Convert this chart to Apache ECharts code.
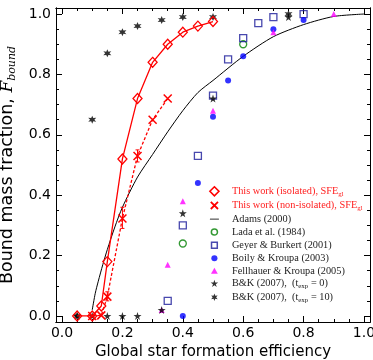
<!DOCTYPE html>
<html><head><meta charset="utf-8">
<script src="https://cdn.jsdelivr.net/npm/echarts@6/dist/echarts.min.js"></script>
<style>html,body{margin:0;padding:0;background:#fff}#c{width:373px;height:360px}</style>
</head><body><div id="c"></div>
<script>
// tick values
const xMajor=[0,0.2,0.4,0.6,0.8,1.0];
const xMinor=[0.05,0.1,0.15,0.25,0.3,0.35,0.45,0.5,0.55,0.65,0.7,0.75,0.85,0.9,0.95];
const yMajor=[0,0.2,0.4,0.6,0.8,1.0];
const yMinor=[0.05,0.1,0.15,0.25,0.3,0.35,0.45,0.5,0.55,0.65,0.7,0.75,0.85,0.9,0.95];

// data
const isoX=[0.05,0.10,0.13,0.15,0.20,0.25,0.30,0.35,0.40,0.45,0.50];
const isoY=[0,0,0.033,0.18,0.52,0.72,0.84,0.90,0.94,0.96,0.975];
const nonX=[0.10,0.13,0.15,0.20,0.25,0.30,0.35];
const nonY=[0,0.002,0.064,0.323,0.53,0.65,0.72];
const errX=[0.15,0.20,0.25];
const errLo=[0.05,0.29,0.51];
const errHi=[0.08,0.36,0.55];
const adamsX=[0.10,0.11,0.12,0.135,0.15,0.175,0.20,0.25,0.30,0.35,0.40,0.45,0.50,0.60,0.70,0.80,0.90,1.00];
const adamsY=[0.02,0.075,0.115,0.17,0.22,0.295,0.36,0.46,0.535,0.61,0.68,0.74,0.78,0.86,0.925,0.965,0.992,1.0];
const ladaX=[0.40,0.60];
const ladaY=[0.24,0.90];
const gbX=[0.35,0.40,0.45,0.50,0.55,0.60,0.65,0.70,0.80];
const gbY=[0.05,0.30,0.53,0.73,0.85,0.92,0.97,0.99,1.0];
const bkX=[0.40,0.45,0.50,0.55,0.60,0.70,0.80];
const bkY=[0,0.44,0.66,0.78,0.86,0.95,0.98];
const fkX=[0.33,0.35,0.40,0.50,0.70,0.90];
const fkY=[0.02,0.17,0.38,0.68,0.94,1.0];
const bk0X=[0.05,0.10,0.15,0.20,0.25,0.33,0.40,0.50,0.75];
const bk0Y=[0,0,0,0,0,0.02,0.34,0.72,0.99];
const bk10X=[0.05,0.10,0.15,0.20,0.25,0.33,0.40,0.50,0.75];
const bk10Y=[0,0.65,0.87,0.94,0.96,0.98,0.99,0.99,1.0];

const names=['iso','non','adams','lada','gb','bk','fk','bk0','bk10'];
const labels={
  iso:'{r|This work (isolated), SFE}{rs|gl}',
  non:'{r|This work (non-isolated), SFE}{rs|gl}',
  adams:'{b|Adams (2000)}',
  lada:'{b|Lada et al. (1984)}',
  gb:'{b|Geyer & Burkert (2001)}',
  bk:'{b|Boily & Kroupa (2003)}',
  fk:'{b|Fellhauer & Kroupa (2005)}',
  bk0:'{b|B&K (2007),  (t}{bs|exp}{b| = 0)}',
  bk10:'{b|B&K (2007),  (t}{bs|exp}{b| = 10)}'
};

const zip=(a,b)=>a.map((v,i)=>[v,b[i]]);
const STAR5='path://M5,0L6.18,3.6L10,3.6L6.9,5.9L8.1,9.5L5,7.3L1.9,9.5L3.1,5.9L0,3.6L3.8,3.6Z';
const STAR6='path://M5,0L6.15,3.01L9.33,2.5L7.3,5L9.33,7.5L6.15,6.99L5,10L3.85,6.99L0.67,7.5L2.7,5L0.67,2.5L3.85,3.01Z';
const XMARK='path://M0,0L10,10M0,10L10,0';
// legend icons (with invisible margins so they render smaller in the box)
const L_X='path://M0,0M10,10M1,1L9,9M1,9L9,1';
const L_LINE='path://M0,0M10,10M-0.5,4.5h11v1h-11z';
const L_CIRC='path://M0,0M10,10M8.4,5A3.4,3.4,0,1,1,1.6,5A3.4,3.4,0,1,1,8.4,5Z';
const L_RECT='path://M0,0M10,10M1.8,1.8h6.4v6.4h-6.4Z';
const L_TRI='path://M0,0M10,10M5,1.5L8.8,8.3L1.2,8.3Z';
const L_STAR5='path://M-1,-1M11,11M5,0L6.18,3.6L10,3.6L6.9,5.9L8.1,9.5L5,7.3L1.9,9.5L3.1,5.9L0,3.6L3.8,3.6Z';
const L_STAR6='path://M-1,-1M11,11M5,0L6.15,3.01L9.33,2.5L7.3,5L9.33,7.5L6.15,6.99L5,10L3.85,6.99L0.67,7.5L2.7,5L0.67,2.5L3.85,3.01Z';

function mkAxis(pos,vals,len,labels,isX){
  const a={type:'value',min:-0.02,max:1.02,position:pos,
    axisLine:{show:true,onZero:false,lineStyle:{color:'#000',width:1}},
    axisTick:{show:true,inside:true,length:len,customValues:vals,lineStyle:{color:'#000',width:1}},
    axisLabel:{show:!!labels},
    splitLine:{show:false}};
  if(labels){
    a.axisLabel={show:true,customValues:vals,formatter:v=>v.toFixed(1),color:'#000',
      fontFamily:'DejaVu Sans',fontSize:14,margin:isX?4:5};
  }
  return a;
}
const xAxes=[mkAxis('bottom',xMajor,6,true,true),mkAxis('bottom',xMinor,3,false),
             mkAxis('top',xMajor,6,false),mkAxis('top',xMinor,3,false)];
xAxes[0].name='Global star formation efficiency';
xAxes[0].nameLocation='middle';xAxes[0].nameGap=20;
xAxes[0].nameTextStyle={fontFamily:'DejaVu Sans',fontSize:15,color:'#000'};
const yAxes=[mkAxis('left',yMajor,6,true,false),mkAxis('left',yMinor,3,false),
             mkAxis('right',yMajor,6,false),mkAxis('right',yMinor,3,false)];
yAxes[0].name='{a|Bound mass fraction, }{i|F}{s|bound}';
yAxes[0].nameLocation='middle';yAxes[0].nameGap=28;yAxes[0].nameRotate=90;
yAxes[0].nameTextStyle={rich:{
  a:{fontFamily:'DejaVu Sans',fontSize:17.5,color:'#000',lineHeight:20},
  i:{fontFamily:'DejaVu Serif',fontStyle:'italic',fontSize:17,color:'#000',lineHeight:20},
  s:{fontFamily:'DejaVu Serif',fontStyle:'italic',fontSize:11,color:'#000',lineHeight:12,verticalAlign:'bottom'}}};

const series=[
 {name:'adams',type:'line',data:zip(adamsX,adamsY),smooth:0.25,showSymbol:false,symbol:'none',
  lineStyle:{color:'#000',width:1},itemStyle:{color:'#000'},z:2},
 {name:'iso',type:'line',data:zip(isoX,isoY),symbol:'diamond',symbolSize:[9,10],
  lineStyle:{color:'#ff0000',width:1.3},itemStyle:{color:'rgba(255,255,255,0)',borderColor:'#ff0000',borderWidth:1.3},z:5},
 {name:'non',type:'line',data:zip(nonX,nonY),symbol:XMARK,symbolSize:8,
  lineStyle:{color:'#ff0000',width:1.3,type:[3,2]},itemStyle:{color:'rgba(255,0,0,0)',borderColor:'#ff0000',borderWidth:1.5},z:5},
 {name:'err',type:'custom',data:errX.map((x,i)=>[x,errLo[i],errHi[i]]),
  renderItem:(p,api)=>{const lo=api.coord([api.value(0),api.value(1)]);const hi=api.coord([api.value(0),api.value(2)]);
   return {type:'group',children:[
    {type:'line',shape:{x1:lo[0],y1:lo[1],x2:hi[0],y2:hi[1]},style:{stroke:'#ff0000',lineWidth:1}},
    {type:'line',shape:{x1:lo[0]-2,y1:lo[1],x2:lo[0]+2,y2:lo[1]},style:{stroke:'#ff0000',lineWidth:1}},
    {type:'line',shape:{x1:hi[0]-2,y1:hi[1],x2:hi[0]+2,y2:hi[1]},style:{stroke:'#ff0000',lineWidth:1}}]};},z:4},
 {name:'lada',type:'scatter',data:zip(ladaX,ladaY),symbol:'circle',symbolSize:7,
  itemStyle:{color:'rgba(255,255,255,0)',borderColor:'#008000',borderWidth:1.3}},
 {name:'gb',type:'scatter',data:zip(gbX,gbY),symbol:'rect',symbolSize:7,
  itemStyle:{color:'rgba(255,255,255,0)',borderColor:'#1a1a9a',borderWidth:1.3}},
 {name:'bk',type:'scatter',data:zip(bkX,bkY),symbol:'circle',symbolSize:6,itemStyle:{color:'#0000ff'}},
 {name:'fk',type:'scatter',data:zip(fkX,fkY),symbol:'triangle',symbolSize:6,itemStyle:{color:'#ff00ff'}},
 {name:'bk0',type:'scatter',data:zip(bk0X,bk0Y),symbol:STAR5,symbolSize:8,itemStyle:{color:'#000'}},
 {name:'bk10',type:'scatter',data:zip(bk10X,bk10Y),symbol:STAR6,symbolSize:8,itemStyle:{color:'#000'}}
];

const legIcons={
 iso:{icon:'diamond',itemStyle:{color:'rgba(255,255,255,0)',borderColor:'#ff0000',borderWidth:1.6}},
 non:{icon:L_X,itemStyle:{color:'rgba(255,255,255,0)',borderColor:'#ff0000',borderWidth:1.8}},
 adams:{icon:L_LINE,itemStyle:{color:'#000',borderWidth:0}},
 lada:{icon:L_CIRC,itemStyle:{color:'rgba(255,255,255,0)',borderColor:'#008000',borderWidth:1.5}},
 gb:{icon:L_RECT,itemStyle:{color:'rgba(255,255,255,0)',borderColor:'#1a1a9a',borderWidth:1.5}},
 bk:{icon:L_CIRC,itemStyle:{color:'#0000ff',borderWidth:0}},
 fk:{icon:L_TRI,itemStyle:{color:'#ff00ff',borderWidth:0}},
 bk0:{icon:L_STAR5,itemStyle:{color:'#000',borderWidth:0}},
 bk10:{icon:L_STAR6,itemStyle:{color:'#000',borderWidth:0}}
};

const chart=echarts.init(document.getElementById('c'),null,{renderer:'canvas'});
chart.setOption({
  animation:false,
  backgroundColor:'#fff',
  grid:{left:56,right:3,top:8,bottom:38,containLabel:false,outerBoundsMode:'none'},
  xAxis:xAxes,
  yAxis:yAxes,
  legend:{
    orient:'vertical',left:204,top:181,itemGap:2.7,itemWidth:9,itemHeight:9,
    selectedMode:false,
    data:names.map(n=>Object.assign({name:n},legIcons[n])),
    formatter:n=>labels[n],
    textStyle:{padding:[0,0,0,8],rich:{
      r:{fontFamily:'Liberation Serif',fontSize:10.3,color:'#ff2020',lineHeight:12},
      rs:{fontFamily:'Liberation Serif',fontSize:7,color:'#ff2020',lineHeight:7,verticalAlign:'bottom'},
      b:{fontFamily:'Liberation Serif',fontSize:10.3,color:'#222',lineHeight:12},
      bs:{fontFamily:'Liberation Serif',fontSize:7,color:'#222',lineHeight:7,verticalAlign:'bottom'}}}
  },
  series:series
});
</script></body></html>
